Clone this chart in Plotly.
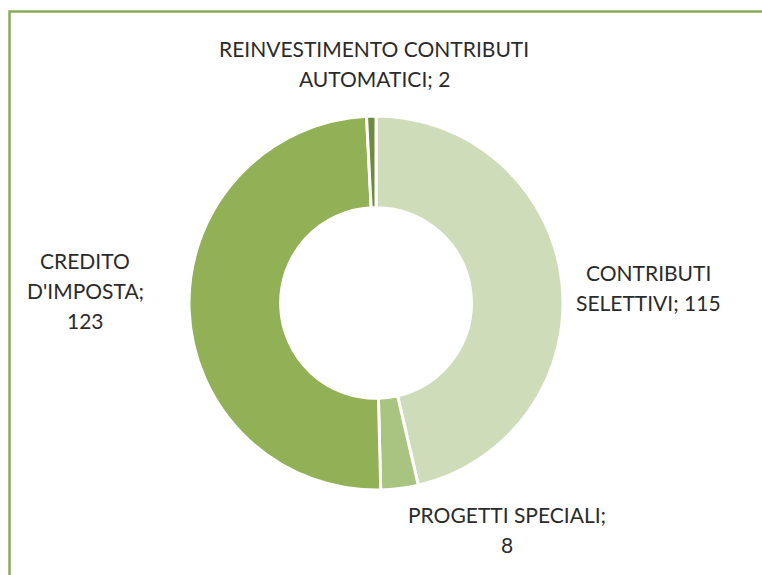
import plotly.graph_objects as go

labels = ["CONTRIBUTI\nSELETTIVI", "PROGETTI SPECIALI", "CREDITO\nD'IMPOSTA", "REINVESTIMENTO CONTRIBUTI\nAUTOMATICI"]
values = [115, 8, 123, 2]
colors = ["#cfdcb9", "#a9c480", "#92b157", "#6e8b3d"]
# separatore tra etichetta e valore (alcune etichette vanno a capo prima del numero)
seps = ["; ", ";\n", ";\n", "; "]
# posizione dei testi (pixel, origine in alto a sinistra)
label_pos = [(648, 287), (507, 529), (85, 290), (374, 63)]

W, H = 762, 575
LINE_H = 30

fig = go.Figure(go.Pie(
    labels=[l.replace("\n", " ") for l in labels],
    values=values,
    hole=0.51,
    sort=False,
    direction="clockwise",
    rotation=0,
    textinfo="none",
    hoverinfo="label+value",
    marker=dict(colors=colors, line=dict(color="white", width=3)),
    domain=dict(x=[(376 - 187) / W, (376 + 187) / W], y=[1 - 490 / H, 1 - 116 / H]),
    showlegend=False,
))

# etichette esterne, una riga per annotazione per rispettare l'interlinea
for lab, val, sep, (cx, cy) in zip(labels, values, seps, label_pos):
    lines = f"{lab}{sep}{val}".split("\n")
    top = cy - LINE_H * (len(lines) - 1) / 2
    for i, line in enumerate(lines):
        fig.add_annotation(
            x=cx / W, y=1 - (top + i * LINE_H) / H, xref="paper", yref="paper",
            text=line, showarrow=False, xanchor="center", yanchor="middle",
            font=dict(family="Lato, Nunito, sans-serif", size=21, color="#2b2b2b"),
        )

# cornice del grafico
fig.add_shape(type="rect", xref="paper", yref="paper",
              x0=9.5 / W, x1=1.05, y0=-0.05, y1=1 - 11.5 / H,
              line=dict(color="#8aaa5a", width=2.5), fillcolor="rgba(0,0,0,0)")

fig.update_layout(
    width=W, height=H,
    margin=dict(l=0, r=0, t=0, b=0),
    paper_bgcolor="white",
    plot_bgcolor="white",
)

fig.write_html("out.html", config={"displayModeBar": False},
               post_script="document.body.style.margin='0';")
